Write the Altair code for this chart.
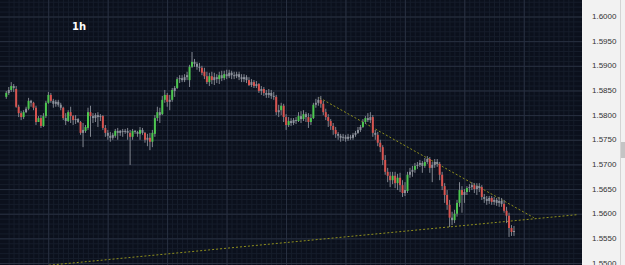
import altair as alt
import pandas as pd

# ---- OHLC data (1h candles) ----
open_ = [
    1.5838, 1.5846, 1.5852, 1.5860, 1.5854, 1.5818, 1.5805, 1.5797, 1.5807, 1.5814,
    1.5830, 1.5826, 1.5816, 1.5787, 1.5795, 1.5779, 1.5799, 1.5826, 1.5842, 1.5830,
    1.5824, 1.5828, 1.5822, 1.5816, 1.5795, 1.5789, 1.5807, 1.5799, 1.5791, 1.5793,
    1.5787, 1.5765, 1.5769, 1.5775, 1.5807, 1.5799, 1.5795, 1.5801, 1.5797, 1.5799,
    1.5775, 1.5765, 1.5759, 1.5755, 1.5759, 1.5769, 1.5765, 1.5769, 1.5767, 1.5769,
    1.5765, 1.5757, 1.5769, 1.5767, 1.5763, 1.5771, 1.5765, 1.5751, 1.5755, 1.5747,
    1.5763, 1.5795, 1.5807, 1.5803, 1.5832, 1.5842, 1.5828, 1.5832, 1.5850, 1.5856,
    1.5874, 1.5876, 1.5872, 1.5878, 1.5872, 1.5899, 1.5909, 1.5905, 1.5899, 1.5897,
    1.5889, 1.5880, 1.5868, 1.5880, 1.5872, 1.5878, 1.5874, 1.5882, 1.5876, 1.5884,
    1.5880, 1.5887, 1.5882, 1.5880, 1.5884, 1.5878, 1.5874, 1.5878, 1.5872, 1.5862,
    1.5868, 1.5860, 1.5864, 1.5850, 1.5854, 1.5846, 1.5842, 1.5846, 1.5840, 1.5838,
    1.5807, 1.5811, 1.5820, 1.5797, 1.5781, 1.5789, 1.5785, 1.5791, 1.5789, 1.5799,
    1.5793, 1.5803, 1.5797, 1.5787, 1.5795, 1.5822, 1.5826, 1.5832, 1.5824, 1.5807,
    1.5797, 1.5789, 1.5779, 1.5771, 1.5763, 1.5759, 1.5755, 1.5757, 1.5753, 1.5757,
    1.5755, 1.5761, 1.5765, 1.5771, 1.5777, 1.5787, 1.5795, 1.5791, 1.5797, 1.5765,
    1.5761, 1.5745, 1.5736, 1.5710, 1.5686, 1.5678, 1.5669, 1.5678, 1.5663, 1.5674,
    1.5659, 1.5643, 1.5647, 1.5680, 1.5686, 1.5690, 1.5698, 1.5700, 1.5704, 1.5698,
    1.5706, 1.5712, 1.5694, 1.5700, 1.5706, 1.5702, 1.5680, 1.5657, 1.5639, 1.5619,
    1.5593, 1.5588, 1.5601, 1.5623, 1.5649, 1.5639, 1.5645, 1.5653, 1.5655, 1.5659,
    1.5651, 1.5657, 1.5655, 1.5635, 1.5631, 1.5627, 1.5633, 1.5625, 1.5629, 1.5623,
    1.5627, 1.5621, 1.5607, 1.5597, 1.5572, 1.5564,
]
high = [
    1.5850, 1.5858, 1.5868, 1.5864, 1.5860, 1.5822, 1.5809, 1.5811, 1.5818, 1.5836,
    1.5832, 1.5828, 1.5820, 1.5799, 1.5801, 1.5805, 1.5830, 1.5848, 1.5846, 1.5834,
    1.5832, 1.5832, 1.5826, 1.5818, 1.5805, 1.5811, 1.5818, 1.5801, 1.5801, 1.5795,
    1.5789, 1.5785, 1.5781, 1.5816, 1.5820, 1.5805, 1.5805, 1.5807, 1.5803, 1.5801,
    1.5781, 1.5771, 1.5767, 1.5765, 1.5773, 1.5775, 1.5771, 1.5773, 1.5773, 1.5775,
    1.5771, 1.5773, 1.5771, 1.5769, 1.5777, 1.5775, 1.5767, 1.5763, 1.5765, 1.5771,
    1.5801, 1.5818, 1.5816, 1.5840, 1.5852, 1.5846, 1.5842, 1.5856, 1.5860, 1.5878,
    1.5882, 1.5882, 1.5884, 1.5889, 1.5903, 1.5929, 1.5915, 1.5909, 1.5907, 1.5901,
    1.5897, 1.5889, 1.5887, 1.5889, 1.5887, 1.5884, 1.5889, 1.5891, 1.5891, 1.5893,
    1.5893, 1.5891, 1.5889, 1.5889, 1.5889, 1.5884, 1.5884, 1.5882, 1.5878, 1.5874,
    1.5872, 1.5870, 1.5866, 1.5860, 1.5858, 1.5852, 1.5854, 1.5852, 1.5848, 1.5842,
    1.5822, 1.5826, 1.5824, 1.5803, 1.5797, 1.5795, 1.5795, 1.5797, 1.5807, 1.5809,
    1.5811, 1.5807, 1.5805, 1.5803, 1.5826, 1.5834, 1.5838, 1.5840, 1.5830, 1.5814,
    1.5803, 1.5793, 1.5785, 1.5777, 1.5767, 1.5763, 1.5763, 1.5761, 1.5763, 1.5761,
    1.5765, 1.5769, 1.5777, 1.5781, 1.5793, 1.5799, 1.5805, 1.5807, 1.5801, 1.5771,
    1.5767, 1.5751, 1.5740, 1.5720, 1.5694, 1.5686, 1.5686, 1.5686, 1.5682, 1.5684,
    1.5669, 1.5665, 1.5686, 1.5694, 1.5698, 1.5704, 1.5706, 1.5710, 1.5708, 1.5714,
    1.5718, 1.5716, 1.5706, 1.5712, 1.5712, 1.5706, 1.5686, 1.5663, 1.5649, 1.5629,
    1.5605, 1.5609, 1.5629, 1.5665, 1.5657, 1.5651, 1.5657, 1.5661, 1.5665, 1.5663,
    1.5663, 1.5663, 1.5659, 1.5641, 1.5637, 1.5637, 1.5637, 1.5635, 1.5633, 1.5635,
    1.5633, 1.5629, 1.5615, 1.5603, 1.5578, 1.5576,
]
low = [
    1.5834, 1.5842, 1.5848, 1.5848, 1.5816, 1.5797, 1.5791, 1.5793, 1.5805, 1.5811,
    1.5818, 1.5811, 1.5781, 1.5789, 1.5775, 1.5777, 1.5795, 1.5824, 1.5826, 1.5816,
    1.5818, 1.5818, 1.5811, 1.5791, 1.5781, 1.5787, 1.5785, 1.5781, 1.5783, 1.5785,
    1.5761, 1.5736, 1.5765, 1.5771, 1.5757, 1.5785, 1.5787, 1.5777, 1.5789, 1.5771,
    1.5757, 1.5751, 1.5747, 1.5751, 1.5755, 1.5751, 1.5759, 1.5757, 1.5763, 1.5751,
    1.5700, 1.5751, 1.5763, 1.5757, 1.5751, 1.5761, 1.5745, 1.5738, 1.5730, 1.5736,
    1.5757, 1.5789, 1.5785, 1.5801, 1.5826, 1.5818, 1.5811, 1.5828, 1.5838, 1.5854,
    1.5866, 1.5868, 1.5868, 1.5872, 1.5858, 1.5897, 1.5899, 1.5893, 1.5889, 1.5882,
    1.5874, 1.5864, 1.5860, 1.5864, 1.5862, 1.5866, 1.5864, 1.5870, 1.5872, 1.5874,
    1.5876, 1.5874, 1.5874, 1.5876, 1.5872, 1.5868, 1.5868, 1.5866, 1.5860, 1.5858,
    1.5856, 1.5856, 1.5846, 1.5842, 1.5840, 1.5836, 1.5836, 1.5834, 1.5832, 1.5801,
    1.5797, 1.5801, 1.5787, 1.5771, 1.5777, 1.5779, 1.5781, 1.5783, 1.5787, 1.5785,
    1.5789, 1.5787, 1.5775, 1.5781, 1.5793, 1.5816, 1.5820, 1.5816, 1.5801, 1.5791,
    1.5777, 1.5771, 1.5761, 1.5755, 1.5751, 1.5747, 1.5749, 1.5747, 1.5749, 1.5751,
    1.5751, 1.5757, 1.5763, 1.5767, 1.5775, 1.5783, 1.5787, 1.5785, 1.5757, 1.5751,
    1.5738, 1.5726, 1.5700, 1.5680, 1.5665, 1.5655, 1.5661, 1.5653, 1.5649, 1.5645,
    1.5635, 1.5637, 1.5643, 1.5674, 1.5676, 1.5684, 1.5692, 1.5696, 1.5684, 1.5694,
    1.5702, 1.5684, 1.5665, 1.5694, 1.5696, 1.5669, 1.5649, 1.5623, 1.5609, 1.5574,
    1.5578, 1.5582, 1.5595, 1.5615, 1.5603, 1.5623, 1.5639, 1.5645, 1.5649, 1.5643,
    1.5639, 1.5645, 1.5629, 1.5623, 1.5619, 1.5621, 1.5619, 1.5619, 1.5617, 1.5615,
    1.5615, 1.5603, 1.5582, 1.5554, 1.5556, 1.5556,
]
close = [
    1.5846, 1.5852, 1.5860, 1.5856, 1.5818, 1.5805, 1.5797, 1.5807, 1.5814, 1.5830,
    1.5826, 1.5816, 1.5787, 1.5795, 1.5779, 1.5799, 1.5826, 1.5842, 1.5830, 1.5824,
    1.5828, 1.5822, 1.5816, 1.5795, 1.5789, 1.5807, 1.5799, 1.5791, 1.5793, 1.5787,
    1.5765, 1.5771, 1.5777, 1.5807, 1.5799, 1.5795, 1.5801, 1.5797, 1.5799, 1.5775,
    1.5765, 1.5759, 1.5755, 1.5761, 1.5769, 1.5765, 1.5769, 1.5767, 1.5769, 1.5765,
    1.5757, 1.5769, 1.5767, 1.5763, 1.5771, 1.5765, 1.5751, 1.5755, 1.5747, 1.5765,
    1.5795, 1.5807, 1.5801, 1.5832, 1.5842, 1.5828, 1.5832, 1.5852, 1.5856, 1.5874,
    1.5876, 1.5872, 1.5878, 1.5882, 1.5899, 1.5909, 1.5905, 1.5899, 1.5897, 1.5887,
    1.5880, 1.5868, 1.5880, 1.5872, 1.5878, 1.5874, 1.5882, 1.5876, 1.5884, 1.5880,
    1.5887, 1.5882, 1.5880, 1.5884, 1.5878, 1.5874, 1.5878, 1.5872, 1.5862, 1.5868,
    1.5860, 1.5864, 1.5850, 1.5854, 1.5846, 1.5842, 1.5846, 1.5840, 1.5838, 1.5807,
    1.5811, 1.5820, 1.5797, 1.5781, 1.5789, 1.5785, 1.5791, 1.5789, 1.5799, 1.5793,
    1.5803, 1.5797, 1.5787, 1.5795, 1.5822, 1.5826, 1.5832, 1.5824, 1.5807, 1.5797,
    1.5789, 1.5779, 1.5771, 1.5763, 1.5759, 1.5755, 1.5757, 1.5753, 1.5757, 1.5755,
    1.5761, 1.5765, 1.5771, 1.5777, 1.5787, 1.5795, 1.5791, 1.5797, 1.5765, 1.5761,
    1.5745, 1.5736, 1.5710, 1.5686, 1.5678, 1.5669, 1.5678, 1.5663, 1.5674, 1.5659,
    1.5643, 1.5649, 1.5680, 1.5686, 1.5690, 1.5698, 1.5700, 1.5704, 1.5698, 1.5706,
    1.5712, 1.5694, 1.5700, 1.5706, 1.5702, 1.5680, 1.5657, 1.5639, 1.5619, 1.5593,
    1.5588, 1.5601, 1.5623, 1.5649, 1.5639, 1.5645, 1.5653, 1.5655, 1.5659, 1.5651,
    1.5657, 1.5653, 1.5635, 1.5631, 1.5627, 1.5633, 1.5625, 1.5629, 1.5623, 1.5627,
    1.5621, 1.5607, 1.5597, 1.5572, 1.5564, 1.5566,
]

# trend lines (bar index, price)
trend_down_x = [126.5, 213.0]
trend_down_y = [1.5836, 1.5593]
trend_up_x = [-0.5, 230.4]
trend_up_y = [1.5488, 1.5599]

# price axis tick labels
tick_prices = [1.5500, 1.5550, 1.5600, 1.5650, 1.5700, 1.5750, 1.5800,
               1.5850, 1.5900, 1.5950, 1.6000]
tick_labels = ["1.5500", "1.5550", "1.5600", "1.5650", "1.5700", "1.5750",
               "1.5800", "1.5850", "1.5900", "1.5950", "1.6000"]

# ---- grid positions (style) ----
grid_x_minor = [17.14 + 2 * m for m in range(-8, 107)]
grid_x_major = [17.14 + 24 * k for k in range(0, 9)]
grid_y_minor = [round(1.550 + 0.001 * k, 3) for k in range(0, 54)]

W, H = 582, 265
xscale = alt.Scale(domain=[-0.516, 230.44], nice=False, zero=False)
yscale = alt.Scale(domain=[1.5497, 1.60345], nice=False, zero=False)

df = pd.DataFrame({"i": list(range(len(open_))), "open": open_, "high": high,
                   "low": low, "close": close})
diff = df["close"] - df["open"]
df["dir"] = ["up" if d >= 0.0007 else ("down" if d <= -0.0007 else "flat") for d in diff]

MINOR = "#161d2b"
MAJOR = "#283040"

vminor = alt.Chart(pd.DataFrame({"gx": grid_x_minor})).mark_rule(
    color=MINOR, strokeWidth=1).encode(x=alt.X("gx:Q", scale=xscale, axis=None))
hminor = alt.Chart(pd.DataFrame({"gy": grid_y_minor})).mark_rule(
    color=MINOR, strokeWidth=1).encode(y=alt.Y("gy:Q", scale=yscale, axis=None))
vmajor = alt.Chart(pd.DataFrame({"gx": grid_x_major})).mark_rule(
    color=MAJOR, strokeWidth=1).encode(x=alt.X("gx:Q", scale=xscale, axis=None))
hmajor = alt.Chart(pd.DataFrame({"gy": tick_prices})).mark_rule(
    color=MAJOR, strokeWidth=1).encode(y=alt.Y("gy:Q", scale=yscale, axis=None))

ticks_txt = alt.Chart(pd.DataFrame({"p": tick_prices, "lab": tick_labels})).mark_text(
    align="left", baseline="middle", fontSize=8, font="Liberation Sans",
    color="#333333").encode(
    x=alt.value(592), y=alt.Y("p:Q", scale=yscale, axis=None), text="lab:N")

wicks = alt.Chart(df).mark_rule(color="#80858f", strokeWidth=1).encode(
    x=alt.X("i:Q", scale=xscale, axis=None),
    y=alt.Y("low:Q", scale=yscale, axis=None),
    y2="high:Q",
)
bodies = alt.Chart(df).mark_bar(size=2).encode(
    x=alt.X("i:Q", scale=xscale, axis=None),
    y=alt.Y("open:Q", scale=yscale, axis=None),
    y2="close:Q",
    color=alt.Color("dir:N", scale=alt.Scale(domain=["up", "down", "flat"],
                                             range=["#4cc84f", "#d9534f", "#8d929c"]),
                    legend=None),
)

tdown = alt.Chart(pd.DataFrame({"x": trend_down_x, "y": trend_down_y})).mark_line(
    color="#8f8f1c", strokeWidth=1, strokeDash=[2, 2], clip=True).encode(
    x=alt.X("x:Q", scale=xscale, axis=None), y=alt.Y("y:Q", scale=yscale, axis=None))
tup = alt.Chart(pd.DataFrame({"x": trend_up_x, "y": trend_up_y})).mark_line(
    color="#8f8f1c", strokeWidth=1, strokeDash=[2, 2], clip=True).encode(
    x=alt.X("x:Q", scale=xscale, axis=None), y=alt.Y("y:Q", scale=yscale, axis=None))

label = alt.Chart(pd.DataFrame({"t": ["1h"]})).mark_text(
    color="white", fontWeight="bold", fontSize=10, font="DejaVu Sans").encode(
    text="t:N", x=alt.value(79), y=alt.value(27))

sep = alt.Chart(pd.DataFrame({"t": [0]})).mark_rule(color="#d4d4d4").encode(
    x=alt.value(620.5), y=alt.value(0), y2=alt.value(265))
thumb = alt.Chart(pd.DataFrame({"t": [0]})).mark_rect(color="#c4c4c4").encode(
    x=alt.value(621), x2=alt.value(625), y=alt.value(142), y2=alt.value(158))

chart = alt.layer(
    vminor, hminor, vmajor, hmajor, tup, tdown, wicks, bodies, label,
    ticks_txt, sep, thumb
).properties(
    width=W, height=H,
    padding={"left": 0, "top": 0, "right": 43, "bottom": 0},
    autosize=alt.AutoSizeParams(type="none"),
    background="#f2f2f2",
).configure_view(fill="#0b101c", stroke=None)

chart.save("out.html", embed_options={"renderer": "svg", "actions": False})
